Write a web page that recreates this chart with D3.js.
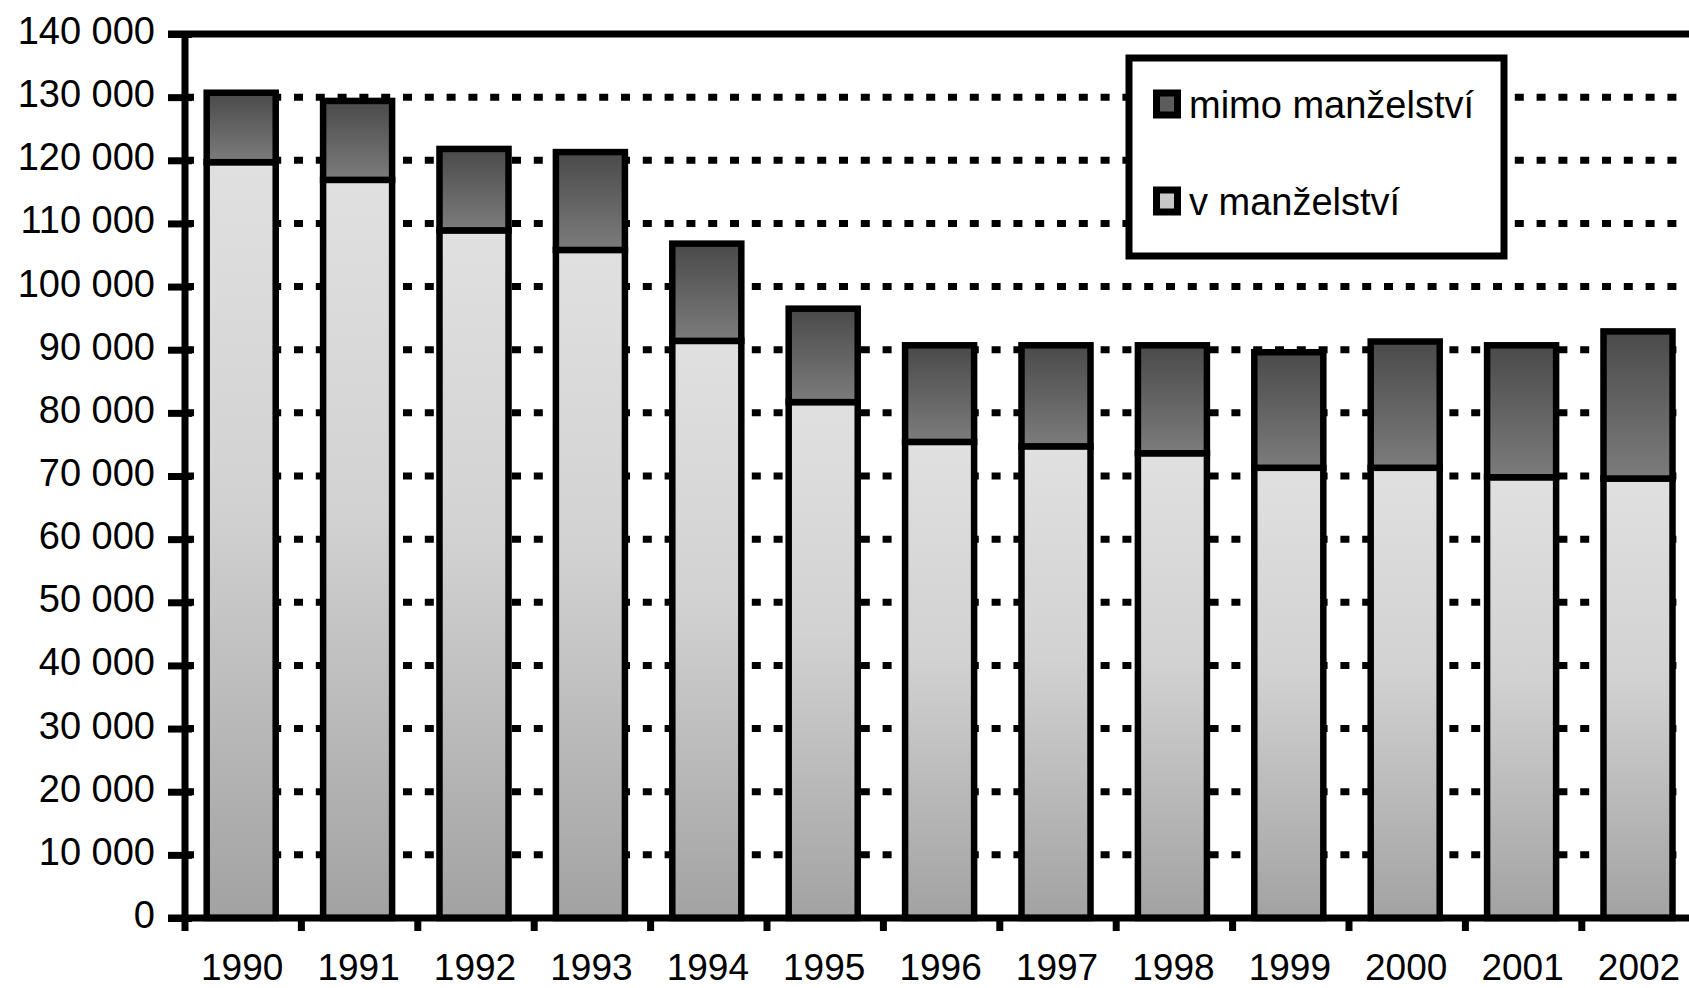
<!DOCTYPE html>
<html>
<head>
<meta charset="utf-8">
<script src="https://cdn.jsdelivr.net/npm/d3@7"></script>
<style>
  html, body { margin: 0; padding: 0; background: #fff; overflow: hidden; }
  svg { display: block; }
  text { font-family: "Liberation Sans", Arial, sans-serif; fill: #000; }
</style>
</head>
<body>
<svg id="chart" width="1689" height="988"></svg>
<script>
// ---- data ----
const years = ["1990","1991","1992","1993","1994","1995","1996","1997","1998","1999","2000","2001","2002"];
const vManzelstvi = [119700, 116900, 108900, 105800, 91400, 81700, 75400, 74700, 73600, 71300, 71300, 69800, 69600];
const mimoManzelstvi = [11000, 12500, 12900, 15500, 15400, 14800, 15300, 16000, 17100, 18300, 20000, 20900, 23300];
const yTickValues = [0, 10000, 20000, 30000, 40000, 50000, 60000, 70000, 80000, 90000, 100000, 110000, 120000, 130000, 140000];
const seriesNames = ["v manželství", "mimo manželství"];

// ---- layout ----
const W = 1689, H = 988;
const x0 = 185, x1 = 185 + 13 * 116.4;
const yBase = 918, yTop = 34;
const svg = d3.select("#chart");

const x = d3.scaleBand().domain(years).range([x0, x1]).paddingInner(0.407).paddingOuter(0.2035);
const y = d3.scaleLinear().domain([0, 140000]).range([yBase, yTop]);
const loc = d3.formatLocale({decimal: ",", thousands: " ", grouping: [3], currency: ["", ""]});
const fmt = loc.format(",d");

// gradients
const defs = svg.append("defs");
function grad(id, stops) {
  const g = defs.append("linearGradient").attr("id", id)
    .attr("x1", 0).attr("y1", 0).attr("x2", 0).attr("y2", 1);
  stops.forEach(s => g.append("stop").attr("offset", s[0]).attr("stop-color", s[1]));
}
grad("gV", [["0%", "#e0e0e0"], ["45%", "#d2d2d2"], ["100%", "#a2a2a2"]]);
grad("gMimo", [["0%", "#4a4a4a"], ["100%", "#7c7c7c"]]);

// gridlines (dotted)
svg.append("g").selectAll("line")
  .data(yTickValues.filter(v => v > 0 && v < 140000))
  .join("line")
  .attr("x1", x0).attr("x2", W)
  .attr("y1", d => y(d)).attr("y2", d => y(d))
  .attr("stroke", "#000").attr("stroke-width", 7)
  .attr("stroke-dasharray", "9,12.8");

// stacked bars
const table = years.map((yr, i) => ({year: yr, v: vManzelstvi[i], mimo: mimoManzelstvi[i]}));
const stack = d3.stack().keys(["v", "mimo"])(table);
const fills = {v: "url(#gV)", mimo: "url(#gMimo)"};
const shift = -2;
svg.append("g").selectAll("g")
  .data(stack).join("g")
  .attr("fill", d => fills[d.key])
  .selectAll("rect")
  .data(d => d).join("rect")
  .attr("x", d => x(d.data.year) + shift)
  .attr("width", x.bandwidth())
  .attr("y", d => y(d[1]))
  .attr("height", d => y(d[0]) - y(d[1]))
  .attr("stroke", "#000").attr("stroke-width", 6.5);

// y axis
const yAxis = d3.axisLeft(y).tickValues(yTickValues).tickFormat(fmt)
  .tickSizeInner(17).tickSizeOuter(0).tickPadding(13);
const gy = svg.append("g").attr("transform", `translate(${x0},0)`).call(yAxis);
gy.select(".domain").remove();
gy.selectAll(".tick line").attr("x2", -17).attr("x1", 7).attr("stroke", "#000").attr("stroke-width", 7);
gy.selectAll(".tick text").attr("font-size", 38).attr("dy", "0.25em")
  .attr("x", -30).style("font-family", "'Liberation Sans', Arial, sans-serif");

// x axis
const xAxis = d3.axisBottom(x).tickSize(0).tickPadding(0);
const gx = svg.append("g").attr("transform", `translate(0,${yBase})`).call(xAxis);
gx.select(".domain").remove();
gx.selectAll(".tick text").attr("font-size", 37).attr("dy", 0).attr("y", 62)
  .attr("x", shift + 1).style("font-family", "'Liberation Sans', Arial, sans-serif");
// boundary ticks
svg.append("g").selectAll("line")
  .data(years.slice(1))
  .join("line")
  .attr("x1", d => x(d) - x.step() * x.paddingInner() / 2)
  .attr("x2", d => x(d) - x.step() * x.paddingInner() / 2)
  .attr("y1", yBase).attr("y2", yBase + 13)
  .attr("stroke", "#000").attr("stroke-width", 7);

// axis lines & top frame
svg.append("line").attr("x1", 168).attr("x2", W).attr("y1", yBase).attr("y2", yBase)
  .attr("stroke", "#000").attr("stroke-width", 7);
svg.append("line").attr("x1", 168).attr("x2", W).attr("y1", y(140000)).attr("y2", y(140000))
  .attr("stroke", "#000").attr("stroke-width", 7);
svg.append("line").attr("x1", x0).attr("x2", x0).attr("y1", y(140000)).attr("y2", yBase + 13)
  .attr("stroke", "#000").attr("stroke-width", 7);

// legend
const lg = svg.append("g");
lg.append("rect").attr("x", 1129).attr("y", 58).attr("width", 375).attr("height", 198)
  .attr("fill", "#fff").attr("stroke", "#000").attr("stroke-width", 7);
const legendItems = [
  {name: seriesNames[1], fill: "#5c5c5c", yBase: 118},
  {name: seriesNames[0], fill: "#c8c8c8", yBase: 215}
];
legendItems.forEach(it => {
  lg.append("rect").attr("x", 1156.5).attr("y", it.yBase - 25).attr("width", 21).attr("height", 22)
    .attr("fill", it.fill).attr("stroke", "#000").attr("stroke-width", 7);
  lg.append("text").attr("x", 1189).attr("y", it.yBase).attr("font-size", 38).text(it.name);
});
</script>
</body>
</html>
